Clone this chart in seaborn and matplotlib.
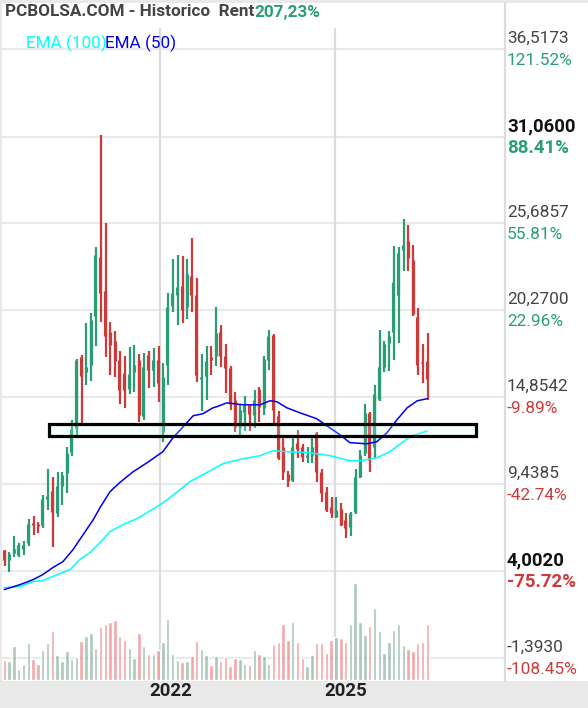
import numpy as np
import pandas as pd
import matplotlib
matplotlib.use("Agg")
import matplotlib.pyplot as plt
from matplotlib.patches import Rectangle
import seaborn as sns

# ---- data ----
opens = [5.36,4.74,5.17,5.05,5.42,5.79,7.04,6.98,6.91,8.53,9.03,7.66,9.34,10.15,11.46,12.95,17.37,16.44,16.87,19.92,
         23.59,21.48,18.93,18.36,17.18,16.37,15.38,16.44,17.18,13.70,17.49,16.56,17.18,12.70,16.87,20.54,21.23,21.79,20.48,22.41,
         21.23,16.00,16.18,17.37,17.43,18.93,17.43,16.68,14.69,13.01,13.95,14.38,13.76,15.38,14.19,17.18,18.74,13.70,11.77,10.09,
         9.71,12.02,11.77,11.15,11.27,12.64,10.21,8.97,8.03,7.41,7.91,7.23,6.79,7.72,9.90,11.39,13.88,11.77,14.76,16.75,
         18.24,18.93,21.23,24.03,24.59,23.40,19.86,17.06,17.12]
closes = [4.74,5.11,5.42,5.67,5.67,6.98,6.91,6.85,8.53,8.72,7.72,9.34,10.03,11.39,12.89,17.18,16.18,16.75,19.67,23.71,
          21.35,18.68,18.12,17.12,15.31,15.31,16.31,16.87,13.76,16.75,16.56,17.18,15.75,16.12,20.48,21.35,21.73,20.29,22.53,21.23,
          16.25,16.12,17.12,17.18,18.87,17.43,16.68,14.44,13.01,14.07,14.38,13.82,14.69,14.26,17.24,18.68,14.07,11.08,10.21,9.65,
          11.77,11.64,11.15,11.27,11.77,10.21,8.91,7.85,7.66,7.85,6.91,6.73,7.66,9.90,11.27,13.88,10.96,15.07,16.75,18.18,
          18.68,22.03,23.84,24.34,23.53,20.04,16.87,16.99,16.00]
highs = [5.36,5.23,6.23,5.79,5.92,7.29,7.47,7.10,8.78,10.40,9.90,10.21,10.21,11.77,13.45,17.24,17.49,19.48,20.11,24.21,
         31.18,25.71,19.55,18.99,17.74,17.43,17.99,18.12,17.56,17.62,17.74,17.93,18.05,17.00,21.35,23.47,23.71,23.65,23.47,24.77,
         22.29,17.56,18.05,18.05,20.48,19.36,18.18,16.81,15.19,14.38,14.94,14.44,15.31,15.50,17.43,19.05,18.80,14.00,12.39,10.27,
         12.39,12.83,11.95,11.77,12.39,12.70,10.40,9.28,8.66,8.66,8.28,7.66,7.72,10.40,11.58,14.44,13.95,15.63,19.05,18.36,
         18.99,24.28,24.21,25.96,25.58,24.34,20.42,18.18,18.87]
lows = [4.36,3.99,4.92,4.92,5.05,5.61,6.29,6.42,6.73,7.85,5.55,7.41,8.16,8.91,11.21,12.52,13.21,15.63,15.88,18.05,
        19.55,17.37,16.25,16.12,14.44,14.19,15.07,15.19,13.32,13.45,15.44,15.50,14.57,12.08,15.63,20.17,19.36,19.48,19.73,20.17,
        15.81,14.01,14.69,16.25,16.81,16.75,15.13,14.07,12.70,12.52,12.76,12.76,12.95,13.32,13.76,16.56,13.13,10.96,9.71,9.28,
        9.59,11.08,10.83,10.77,10.77,9.59,8.35,7.72,7.35,7.35,6.85,6.10,6.23,7.60,9.84,11.21,10.21,11.08,14.63,16.44,
        16.50,17.18,18.24,22.72,22.72,19.92,16.25,15.75,14.69]
volumes = [60,57,102,33,48,111,63,48,90,111,147,75,57,87,63,69,117,132,141,96,
           159,168,174,180,132,120,96,66,141,102,78,78,90,114,183,78,60,54,57,72,
           117,93,75,45,72,57,69,42,66,63,48,45,90,78,72,48,108,114,168,120,
           174,114,66,42,75,111,111,81,120,129,126,114,168,291,174,135,162,216,147,81,
           114,150,168,105,93,87,111,114,168]

ema50_pos = [0,3.3,6,8,10.1,12.2,14.3,16.4,18.5,19.9,22,24,26.8,29.7,33,35.1,37.2,39.3,41.3,43.4,44.2,46.3,49.7,53.2,
             55.3,56.7,58.8,61.5,65,67.1,69.8,71.9,75.4,77.5,79.6,81.7,83.8,85.9,88]
ema50_val = [2.87,3.18,3.49,3.80,4.24,4.61,5.36,6.29,7.22,7.97,8.97,9.53,10.21,10.77,11.46,12.33,13.01,13.70,13.82,14.19,14.26,14.50,14.38,14.38,
             14.63,14.57,14.19,13.88,13.51,13.07,12.52,12.02,11.95,12.08,12.64,13.45,14.19,14.63,14.76]
ema100_pos = [0,3.3,6,8,11,13.7,15.7,17.8,19.9,22,24.7,27.6,29.7,32.4,34.5,38.6,42.8,45.5,47,49.7,53.2,55.9,58.8,63.6,
              67.8,71.9,74,77.5,80.2,84.4,88]
ema100_val = [2.99,3.06,3.37,3.43,3.80,4.11,4.74,5.17,5.79,6.48,6.91,7.29,7.66,8.16,8.60,9.59,10.27,10.71,10.83,11.02,11.21,11.52,11.46,11.39,
              11.21,10.89,10.89,11.08,11.46,12.39,12.76]

tick_prices = [36.5173,31.06,25.6857,20.27,14.8542,9.4385,4.002,-1.393]
tick_texts = ["36,5173","31,0600","25,6857","20,2700","14,8542","9,4385","4,0020","-1,3930"]
pct_texts = ["121.52%","88.41%","55.81%","22.96%","-9.89%","-42.74%","-75.72%","-108.45%"]
bold_ticks = ["31,0600","4,0020"]
year_pos = [32.4,68.7]
year_labels = ["2022","2025"]
box_prices = (12.45,13.17)
box_span = (9.4,98.1)

# ---- style ----
W,H = 588,708
sns.set_theme(style="white")
plt.rcParams['font.family'] = ['Roboto','DejaVu Sans']
GREEN,RED = "#2a9d77","#cc3a3a"
GRID,VGRID,STRIP = "#e9e9e9","#dcdcdc","#e9e9e9"

fig = plt.figure(figsize=(W/100,H/100),dpi=100,facecolor=STRIP)
L,R,T,B = 2,505,3,681
ax = fig.add_axes([L/W,1-B/H,(R-L)/W,(B-T)/H],facecolor="white")
pxx = 4.807
ax.set_xlim((L-4.3)/pxx,(R-4.3)/pxx)
slope = 521/(31.06+1.393)
ax.set_ylim(31.06-(B-137)/slope,31.06-(T-137)/slope)

# white right-hand label panel
fig.patches.append(Rectangle((R/W,1-B/H),(W-R)/W,(B-T)/H,transform=fig.transFigure,fc="white",ec="none",zorder=-1))

ax.hlines(tick_prices,*ax.get_xlim(),color=GRID,lw=1.5,zorder=1)
top_v = 31.06-(28-137)/slope
ax.vlines(year_pos,ax.get_ylim()[0],top_v,color=VGRID,lw=1.6,zorder=1.5)

df = pd.DataFrame(dict(o=opens,c=closes,h=highs,l=lows,v=volumes))
df["i"] = np.arange(len(df))
df["up"] = df.c>=df.o
cols = np.where(df.up,GREEN,RED)
ax.vlines(df.i+0.08,df.l,df.h,colors=cols,lw=1.6,zorder=3)
ax.vlines(df.i-0.06,df[["o","c"]].min(axis=1),df[["o","c"]].max(axis=1),colors=cols,lw=2.3,zorder=3)

sns.lineplot(x=ema100_pos,y=ema100_val,color="#00ffff",lw=1.1,ax=ax,zorder=4,estimator=None)
sns.lineplot(x=ema50_pos,y=ema50_val,color="#0000ee",lw=1.1,ax=ax,zorder=4,estimator=None)

ax.add_patch(Rectangle((box_span[0],box_prices[0]),box_span[1]-box_span[0],box_prices[1]-box_prices[0],
                       fc=(0.8,1,0.98,0.22),ec="black",lw=2.3,zorder=5))

# volume
ax2 = ax.twinx()
ax2.set_ylim(-3,2031)
ax2.patch.set_visible(False)
sns.barplot(data=df,x="i",y="v",hue="up",palette={True:(95/255,150/255,125/255,.52),False:(235/255,80/255,80/255,.5)},
            native_scale=True,dodge=False,width=0.72,legend=False,ax=ax2,saturation=1,zorder=2)
ax2.set_xlim(ax.get_xlim())
ax2.set_ylim(-3,2031)
ax2.set_xlabel("");ax2.set_ylabel("")
ax2.set_yticks([]);ax2.set_xticks([])
ax.set_xticks([]);ax.set_yticks([])
ax.set_xlabel("");ax.set_ylabel("")
for a in (ax,ax2):
    for s in a.spines.values():
        s.set_visible(False)

# right border
fig.add_artist(plt.Line2D([R/W,R/W],[1-B/H,1-T/H],color=VGRID,lw=1.6))

def ypx(p):
    return 137-(p-31.06)*slope
def put(x,y,s,**kw):
    fig.text(x/W,1-y/H,s,va="center",**kw)

for p,t,pc in zip(tick_prices,tick_texts,pct_texts):
    b = t in bold_ticks
    y = ypx(p)
    size = 13.4 if b else 12.4
    put(507,y-11,t,fontsize=size,color="#111111" if b else "#444444",fontweight="bold" if b else "normal")
    c = RED if pc.startswith("-") else GREEN
    put(507,y+11,pc,fontsize=size,color=c,fontweight="bold" if b else "normal")

put(5,12,"PCBOLSA.COM - Historico  Rent",fontsize=12.3,color="#444444",fontweight="bold")
put(254,12,"207,23%",fontsize=12.3,color=GREEN,fontweight="bold")
put(26,43,"EMA (100)",fontsize=12.3,color="#00ffff")
put(105,43,"EMA (50)",fontsize=12.3,color="#0000ee")

for p,l in zip(year_pos,year_labels):
    xp = 4.3+p*pxx+11
    fig.text(xp/W,1-691/H,l,ha="center",va="center",fontsize=13.4,color="#222222",fontweight="bold")

fig.savefig("out.png",dpi=100,facecolor=fig.get_facecolor())
